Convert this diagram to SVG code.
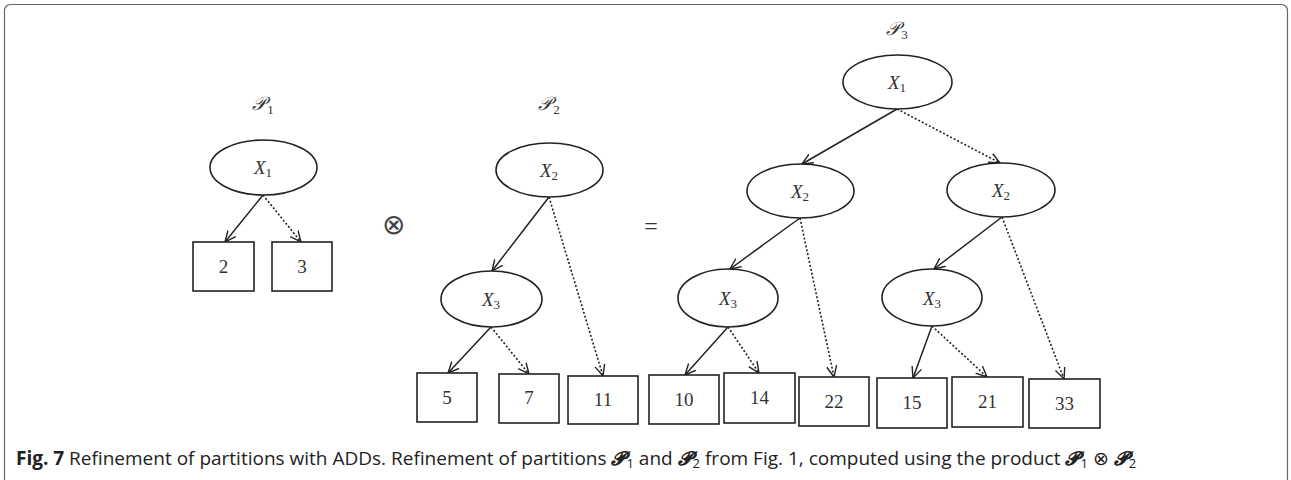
<svg xmlns="http://www.w3.org/2000/svg" width="1291" height="480" viewBox="0 0 1291 480">
<defs>
<marker id="ah" viewBox="0 0 12 12" refX="11" refY="6" markerWidth="12" markerHeight="12" markerUnits="userSpaceOnUse" orient="auto">
<path d="M0,1 L11,6 L0,11" fill="none" stroke="#222" stroke-width="1.4"/>
</marker>
<style>
.nd{fill:#fff;stroke:#222;stroke-width:1.6}
.lb{font-family:"Liberation Serif",serif;font-size:19px;fill:#333;text-anchor:middle}
.vx{font-style:italic}
.sb{font-size:13px}
.big{font-size:28px;fill:#444}
.eq{font-size:24px}
.sol{stroke:#222;stroke-width:1.5;fill:none;marker-end:url(#ah)}
.dot{stroke:#222;stroke-width:1.6;fill:none;stroke-dasharray:2 2;marker-end:url(#ah)}
.cap{font-family:"Open Sans","Noto Sans",sans-serif;font-size:19px;fill:#222}
.cs{font-size:13px}
</style>
</defs>
<rect x="4.5" y="4.5" width="1283" height="490" rx="6" fill="none" stroke="#666" stroke-width="1.2"/>

<g id="labels">
<text class="lb" x="263" y="110" font-style="italic">𝒫<tspan class="sb" dx="1" dy="4" font-style="normal">1</tspan></text>
<text class="lb" x="549" y="110" font-style="italic">𝒫<tspan class="sb" dx="1" dy="4" font-style="normal">2</tspan></text>
<text class="lb" x="897" y="35" font-style="italic">𝒫<tspan class="sb" dx="1" dy="4" font-style="normal">3</tspan></text>
<text class="lb big" x="393" y="234">⊗</text>
<text class="lb eq" x="651" y="234">=</text>
</g>

<g id="connectors">
<line class="sol" x1="263" y1="195" x2="225" y2="242"/>
<line class="dot" x1="263" y1="195" x2="301" y2="242"/>
<line class="sol" x1="549" y1="197" x2="492" y2="271"/>
<line class="dot" x1="549" y1="197" x2="603" y2="376"/>
<line class="sol" x1="491" y1="327" x2="448" y2="373"/>
<line class="dot" x1="491" y1="327" x2="529" y2="374"/>
<line class="sol" x1="897" y1="109" x2="802" y2="164"/>
<line class="dot" x1="897" y1="109" x2="1000" y2="163"/>
<line class="sol" x1="800" y1="218" x2="730" y2="269"/>
<line class="dot" x1="800" y1="218" x2="834" y2="377"/>
<line class="sol" x1="1002" y1="217" x2="934" y2="269"/>
<line class="dot" x1="1002" y1="217" x2="1064" y2="379"/>
<line class="sol" x1="728" y1="327" x2="685" y2="375"/>
<line class="dot" x1="728" y1="327" x2="759" y2="373"/>
<line class="sol" x1="932" y1="326" x2="913" y2="378"/>
<line class="dot" x1="932" y1="326" x2="987" y2="377"/>
</g>

<g id="p1_x1"><ellipse class="nd" cx="263.5" cy="167.5" rx="53.5" ry="27.5"/><text class="lb" x="263" y="174"><tspan class="vx">X</tspan><tspan class="sb" dy="3">1</tspan></text></g>
<g id="p1_2"><rect class="nd" x="193" y="242" width="61" height="49"/><text class="lb" x="223.5" y="273">2</text></g>
<g id="p1_3"><rect class="nd" x="272" y="242" width="60" height="49"/><text class="lb" x="302" y="273">3</text></g>

<g id="p2_x2"><ellipse class="nd" cx="549.5" cy="170" rx="53.5" ry="27"/><text class="lb" x="549" y="177"><tspan class="vx">X</tspan><tspan class="sb" dy="3">2</tspan></text></g>
<g id="p2_x3"><ellipse class="nd" cx="491.5" cy="299" rx="50.5" ry="28"/><text class="lb" x="491" y="306"><tspan class="vx">X</tspan><tspan class="sb" dy="3">3</tspan></text></g>
<g id="p2_5"><rect class="nd" x="417" y="373" width="60" height="49"/><text class="lb" x="447" y="404">5</text></g>
<g id="p2_7"><rect class="nd" x="499" y="374" width="60" height="49"/><text class="lb" x="529" y="404">7</text></g>
<g id="p2_11"><rect class="nd" x="568" y="376" width="70" height="48"/><text class="lb" x="603" y="406">11</text></g>

<g id="p3_x1"><ellipse class="nd" cx="897.5" cy="82" rx="54.5" ry="27"/><text class="lb" x="897" y="89"><tspan class="vx">X</tspan><tspan class="sb" dy="3">1</tspan></text></g>
<g id="p3_x2a"><ellipse class="nd" cx="800.5" cy="191" rx="53.5" ry="27"/><text class="lb" x="800" y="198"><tspan class="vx">X</tspan><tspan class="sb" dy="3">2</tspan></text></g>
<g id="p3_x2b"><ellipse class="nd" cx="1001" cy="190" rx="54" ry="27"/><text class="lb" x="1001" y="197"><tspan class="vx">X</tspan><tspan class="sb" dy="3">2</tspan></text></g>
<g id="p3_x3a"><ellipse class="nd" cx="728" cy="298" rx="50" ry="29"/><text class="lb" x="728" y="305"><tspan class="vx">X</tspan><tspan class="sb" dy="3">3</tspan></text></g>
<g id="p3_x3b"><ellipse class="nd" cx="932" cy="297.5" rx="50" ry="28.5"/><text class="lb" x="932" y="305"><tspan class="vx">X</tspan><tspan class="sb" dy="3">3</tspan></text></g>
<g id="p3_10"><rect class="nd" x="649" y="375" width="70" height="49"/><text class="lb" x="684" y="406">10</text></g>
<g id="p3_14"><rect class="nd" x="724" y="373" width="71" height="50"/><text class="lb" x="759.5" y="404">14</text></g>
<g id="p3_22"><rect class="nd" x="799" y="377" width="70" height="49"/><text class="lb" x="834" y="408">22</text></g>
<g id="p3_15"><rect class="nd" x="877" y="378" width="70" height="50"/><text class="lb" x="912" y="409">15</text></g>
<g id="p3_21"><rect class="nd" x="952" y="377" width="71" height="50"/><text class="lb" x="987.5" y="408">21</text></g>
<g id="p3_33"><rect class="nd" x="1029" y="379" width="71" height="49"/><text class="lb" x="1064.5" y="410">33</text></g>

<g id="caption">
<text class="cap" x="16" y="465"><tspan font-weight="bold">Fig. 7</tspan> Refinement of partitions with ADDs. Refinement of partitions <tspan font-weight="bold" font-style="italic">𝓟</tspan><tspan class="cs" dx="1" dy="3">1</tspan><tspan dy="-3"> and </tspan><tspan font-weight="bold" font-style="italic">𝓟</tspan><tspan class="cs" dx="1" dy="3">2</tspan><tspan dy="-3"> from Fig. 1, computed using the product </tspan><tspan font-weight="bold" font-style="italic">𝓟</tspan><tspan class="cs" dx="1" dy="3">1</tspan><tspan dy="-3"> ⊗ </tspan><tspan font-weight="bold" font-style="italic">𝓟</tspan><tspan class="cs" dx="1" dy="3">2</tspan></text>
</g>
</svg>
